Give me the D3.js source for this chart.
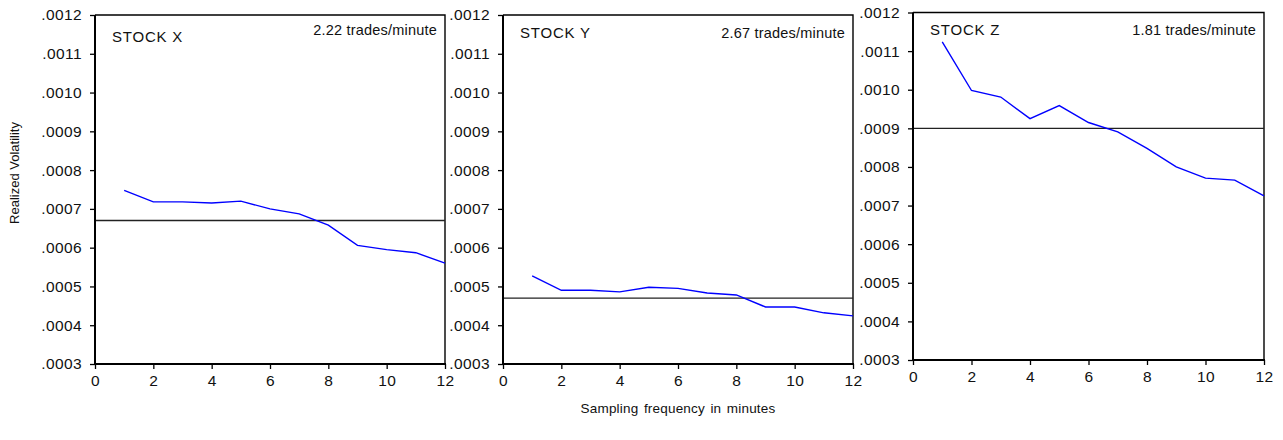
<!DOCTYPE html>
<html>
<head>
<meta charset="utf-8">
<script src="https://cdn.jsdelivr.net/npm/d3@7"></script>
<style>
  body { margin: 0; background: #fff; }
  svg text { font-family: "Liberation Sans", Arial, sans-serif; fill: #111; }
</style>
</head>
<body>
<script>
// sampling frequency in minutes
var minutes = [1, 2, 3, 4, 5, 6, 7, 8, 9, 10, 11, 12];

// realized volatility per stock
var stockX = [0.000748, 0.000718, 0.000718, 0.000715, 0.000720, 0.000700, 0.000687, 0.000658, 0.000606, 0.000595, 0.000587, 0.000560];
var stockY = [0.000527, 0.000490, 0.000490, 0.000486, 0.000498, 0.000495, 0.000483, 0.000478, 0.000447, 0.000447, 0.000432, 0.000424];
var stockZ = [0.001124, 0.000998, 0.000981, 0.000925, 0.000959, 0.000915, 0.000891, 0.000848, 0.000800, 0.000771, 0.000766, 0.000725];

// reference level drawn as a horizontal line
var refLevels = [0.00067, 0.00047, 0.00090];

var stockNames = ["STOCK X", "STOCK Y", "STOCK Z"];
var tradeRates = ["2.22 trades/minute", "2.67 trades/minute", "1.81 trades/minute"];

var xTicks = [0, 2, 4, 6, 8, 10, 12];
var yTicks = [0.0003, 0.0004, 0.0005, 0.0006, 0.0007, 0.0008, 0.0009, 0.0010, 0.0011, 0.0012];

var series = [stockX, stockY, stockZ];

// panel frames (pixels)
var panels = [
  {left: 95,  right: 445,  top: 15,   bottom: 364, nameY: 42, rateY: 35},
  {left: 503, right: 853,  top: 15,   bottom: 364, nameY: 38, rateY: 38},
  {left: 913, right: 1264, top: 12.5, bottom: 360, nameY: 35, rateY: 35}
];

var svg = d3.select("body")
  .append("svg")
  .attr("width", 1283)
  .attr("height", 440);

var fmt = function(d) { return d3.format(".4f")(d).replace(/^0/, ""); };

panels.forEach(function(p, i) {
  var x = d3.scaleLinear().domain([0, 12]).range([p.left, p.right]);
  var y = d3.scaleLinear().domain([0.0003, 0.0012]).range([p.bottom, p.top]);
  var g = svg.append("g");

  // top and right border
  g.append("path")
    .attr("d", "M" + p.left + "," + p.top + "H" + p.right + "V" + p.bottom)
    .attr("fill", "none")
    .attr("stroke", "#000")
    .attr("stroke-width", 1.4);

  // reference line
  g.append("line")
    .attr("x1", p.left).attr("x2", p.right)
    .attr("y1", y(refLevels[i])).attr("y2", y(refLevels[i]))
    .attr("stroke", "#222")
    .attr("stroke-width", 1.3);

  // the series
  var line = d3.line()
    .x(function(d, k) { return x(minutes[k]); })
    .y(function(d) { return y(d); });
  g.append("path")
    .datum(series[i])
    .attr("d", line)
    .attr("fill", "none")
    .attr("stroke", "#0000ff")
    .attr("stroke-width", 1.4);

  var yAxis = g.append("g")
    .attr("transform", "translate(" + p.left + ",0)")
    .call(d3.axisLeft(y).tickValues(yTicks).tickFormat(fmt).tickSize(5).tickPadding(8));
  var xAxis = g.append("g")
    .attr("transform", "translate(0," + p.bottom + ")")
    .call(d3.axisBottom(x).tickValues(xTicks).tickSize(5).tickPadding(6));

  [yAxis, xAxis].forEach(function(ax) {
    ax.attr("font-family", null).attr("font-size", null);
    ax.select(".domain").attr("stroke-width", 2).attr("d", function() {
      return ax === yAxis ? "M0," + p.top + "V" + (p.bottom + 1) : "M" + (p.left - 1) + ",0H" + (p.right + 1);
    });
    ax.selectAll(".tick line").attr("stroke-width", 1.3);
    ax.selectAll(".tick text")
      .style("font-size", "15.5px")
      .style("letter-spacing", "0.4px")
      .attr("fill", "#111");
  });

  g.append("text")
    .attr("x", p.left + 17)
    .attr("y", p.nameY)
    .style("font-size", "15px")
    .style("letter-spacing", "0.8px")
    .text(stockNames[i]);

  g.append("text")
    .attr("x", p.right - 8)
    .attr("y", p.rateY)
    .attr("text-anchor", "end")
    .style("font-size", "14.5px")
    .style("letter-spacing", "0.2px")
    .text(tradeRates[i]);
});

svg.append("text")
  .attr("transform", "translate(19,173) rotate(-90)")
  .attr("text-anchor", "middle")
  .style("font-size", "13px")
  .text("Realized Volatility");

svg.append("text")
  .attr("x", 678)
  .attr("y", 413)
  .attr("text-anchor", "middle")
  .style("font-size", "13.5px")
  .style("word-spacing", "1.5px")
  .style("letter-spacing", "0.2px")
  .text("Sampling frequency in minutes");
</script>
</body>
</html>
